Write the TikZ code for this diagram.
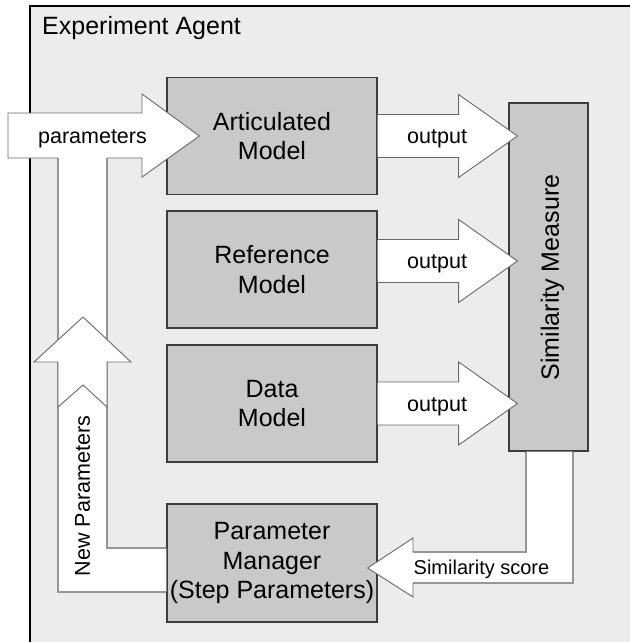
\documentclass[tikz,border=0pt]{standalone}
\usepackage{fontspec}
\setmainfont{Liberation Sans}
\usetikzlibrary{calc}
\definecolor{framebg}{RGB}{236,236,236}
\definecolor{boxfill}{RGB}{201,201,201}
\definecolor{boxline}{RGB}{60,60,60}
\definecolor{arrline}{RGB}{105,105,105}
\definecolor{bandline}{RGB}{150,150,150}
\begin{document}
\begin{tikzpicture}[x=1pt,y=-1pt,
  box/.style={draw=boxline, line width=1.2pt, fill=boxfill, minimum width=210pt,
    minimum height=117pt, inner sep=0pt, align=center,
    font=\fontsize{25}{29.5}\selectfont},
  blockarrow/.style={fill=white, draw=arrline, line width=0.9pt, line join=miter},
  band/.style={draw=bandline, line width=1.8pt},
  lbl/.style={font=\fontsize{21.5}{24}\selectfont, inner sep=0pt}
]
\path[use as bounding box] (0,0) rectangle (629,642);
\fill[white] (0,0) rectangle (629,642);
\draw[black, line width=1.5pt, fill=framebg] (30,6) rectangle (660,680);
\node[anchor=base west, inner sep=0pt, font=\fontsize{25}{30}\selectfont] (title) at (42,35) {Experiment Agent};

% boxes
\node[box] (am) at (272,136) {Articulated\\Model};
\node[box] (rm) at (272,269.5) {Reference\\Model};
\node[box] (dm) at (272,403.5) {Data\\Model};
\node[box, minimum height=118pt] (pm) at (272,563) {Parameter\\Manager\\(Step Parameters)};
\node[box, minimum width=79pt, minimum height=348pt] (sm) at (548.5,277) {};
\node[rotate=90, inner sep=0pt, font=\fontsize{25}{30}\selectfont] (smt) at ($(sm.center)+(4,0.5)$) {Similarity Measure};

% left feedback band
\coordinate (lbTopO) at (58,158);
\coordinate (lbTopI) at (107,158);
\coordinate (lbBotO) at ($(pm.west)+(0,29)$);
\coordinate (lbBotI) at ($(pm.west)+(0,-15)$);
\fill[white] (lbTopO) -- (lbTopO |- lbBotO) -- (lbBotO) -- (lbBotI) -- (lbTopI |- lbBotI) -- (lbTopI) -- cycle;
\draw[band] (lbTopO) -- (lbTopO |- lbBotO) -- (lbBotO);
\draw[band] (lbTopI) -- (lbTopI |- lbBotI) -- (lbBotI);

% New Parameters up arrow
\draw[blockarrow] (58,407) -- (58,362) -- (34,362) -- (83,317) -- (131,362) -- (107,362) -- (107,407) -- (83,385) -- cycle;
\node[lbl, rotate=90] (np) at (82.5,496) {New Parameters};

% parameters arrow
\coordinate (ptip) at ($(am.west)+(33,0)$);
\fill[white] (8,113) -- (142,113) -- (142,94) -- (ptip) -- (142,177) -- (142,158) -- (8,158) -- cycle;
\draw[blockarrow, fill=none] (lbTopI) -- (142,158) -- (142,177) -- (ptip) -- (142,94) -- (142,113) -- (8,113) -- (8,158) -- (lbTopO);
\node[lbl, anchor=base] (pl) at (92.5,143) {parameters};

% output arrows
\coordinate (o1s) at (am.east);
\coordinate (o2s) at ($(rm.east)+(0,-8.5)$);
\coordinate (o3s) at (dm.east);
\foreach \s/\n in {o1s/ol1, o2s/ol2, o3s/ol3}{
  \draw[blockarrow] ($(\s)+(0,-21.5)$) -- ++(81,0) -- ++(0,-20) -- ($(sm.west |- \s)+(9,0)$)
     -- ($(\s)+(81,41.5)$) -- ++(0,-20) -- ($(\s)+(0,21.5)$);
  \node[lbl, anchor=base] (\n) at ($(\s)+(59.5,7.5)$) {output};
}

% similarity score band + arrow
\coordinate (ssI) at ($(sm.south)+(-22.5,0)$);
\coordinate (ssO) at ($(sm.south)+(24.5,0)$);
\coordinate (sstip) at ($(pm.east)+(-10,5)$);
\fill[white] (ssI) -- (526,552) -- (413,552) -- (413,538) -- (sstip) -- (413,597) -- (413,583) -- (573,583) -- (ssO) -- cycle;
\draw[band] (ssI) -- (526,552) -- (413,552);
\draw[band] (ssO) -- (573,583) -- (413,583);
\draw[blockarrow, fill=none] (413,552) -- (413,538) -- (sstip) -- (413,597) -- (413,583);
\node[lbl, font=\fontsize{20}{24}\selectfont, anchor=base] (ssl) at (481.5,574) {Similarity score};
\end{tikzpicture}
\end{document}
